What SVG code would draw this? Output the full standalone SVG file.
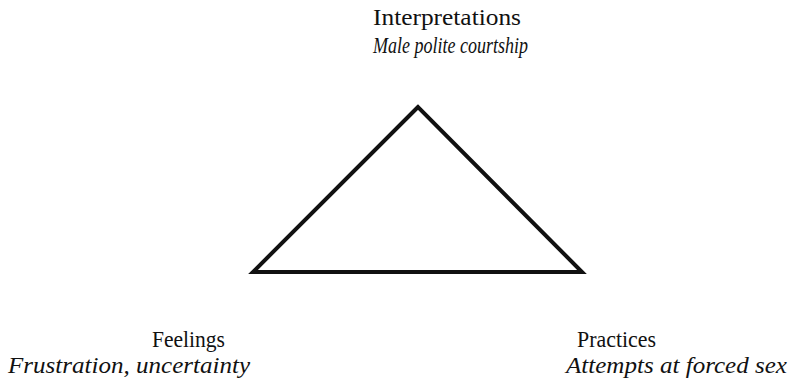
<svg xmlns="http://www.w3.org/2000/svg" width="801" height="380" viewBox="0 0 801 380">
<style>
text{font-family:"Liberation Serif","Times New Roman",serif;fill:#111;font-size:24px}
.t{font-style:normal}
.s{font-style:italic}
</style>
<rect width="801" height="380" fill="#fff"/>
<g id="connectors">
<polygon points="418,107 253,272 582,272" fill="none" stroke="#111" stroke-width="4" stroke-linejoin="miter"/>
</g>
<g id="interpretations">
<text class="t" x="373" y="25" textLength="148" lengthAdjust="spacingAndGlyphs">Interpretations</text>
<text class="s" x="373" y="53" textLength="155" lengthAdjust="spacingAndGlyphs">Male polite courtship</text>
</g>
<g id="feelings">
<text class="t" x="152" y="347" textLength="73" lengthAdjust="spacingAndGlyphs">Feelings</text>
<text class="s" x="8" y="373" textLength="242" lengthAdjust="spacingAndGlyphs">Frustration, uncertainty</text>
</g>
<g id="practices">
<text class="t" x="577" y="347" textLength="79" lengthAdjust="spacingAndGlyphs">Practices</text>
<text class="s" x="566" y="373" textLength="221" lengthAdjust="spacingAndGlyphs">Attempts at forced sex</text>
</g>
</svg>
